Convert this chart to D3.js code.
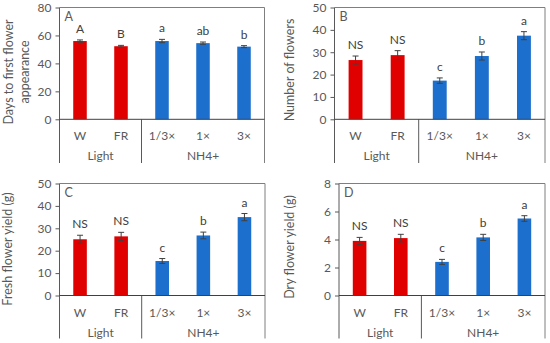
<!DOCTYPE html>
<meta charset="utf-8">
<head>
<style>
body { margin: 0; background: #fff; }
text { font-family: 'Lato', 'Open Sans', sans-serif; fill: #595959; }
.axis text { font-size: 12px; }
.title { font-size: 12.5px; }
.sig { font-size: 12px; fill: #404040; }
.cat { font-size: 12px; }
</style>
<script src="https://d3js.org/d3.v7.min.js"></script>
</head>
<body>
<svg id="chart" width="550" height="343"></svg>
<script>

// data
var categories = ["W", "FR", "1/3×", "1×", "3×"]
var groups = ["Light", "Light", "NH4+", "NH4+", "NH4+"]

var daysVals = [56, 52.3, 56, 54.5, 52]
var daysErr = [0.8, 0.6, 1.2, 0.8, 0.7]
var daysSig = ["A", "B", "a", "ab", "b"]

var numVals = [26.5, 28.7, 17.3, 28.3, 37.4]
var numErr = [1.8, 2.0, 1.2, 1.8, 1.8]
var numSig = ["NS", "NS", "c", "b", "a"]

var freshVals = [25.1, 26.4, 15.4, 26.8, 35.0]
var freshErr = [1.8, 1.8, 1.1, 1.5, 1.6]
var freshSig = ["NS", "NS", "c", "b", "a"]

var dryVals = [3.9, 4.1, 2.4, 4.15, 5.5]
var dryErr = [0.25, 0.27, 0.18, 0.22, 0.2]
var drySig = ["NS", "NS", "c", "b", "a"]

var colors = {"Light": "#e00000", "NH4+": "#1c6fcc"}

// panel layout
var panels = [
  {letter: "A", vals: daysVals, err: daysErr, sig: daysSig, max: 80, step: 20,
   title: ["Days to first flower", "appearance"], tx: [9, 25], ty: 72,
   left: 59.5, top: 7.5, right: 264.5, zero: 119.3, bottom: 163},
  {letter: "B", vals: numVals, err: numErr, sig: numSig, max: 50, step: 10,
   title: ["Number of flowers"], tx: [290], ty: 70,
   left: 334.5, top: 7.5, right: 545, zero: 119.3, bottom: 163},
  {letter: "C", vals: freshVals, err: freshErr, sig: freshSig, max: 50, step: 10,
   title: ["Fresh flower yield (g)"], tx: [8], ty: 249,
   left: 59.5, top: 183.5, right: 265, zero: 295.5, bottom: 338.5},
  {letter: "D", vals: dryVals, err: dryErr, sig: drySig, max: 8, step: 2,
   title: ["Dry flower yield (g)"], tx: [290], ty: 247,
   left: 339, top: 183.5, right: 545, zero: 295.5, bottom: 338.5}
]

var svg = d3.select('#chart')

panels.forEach(function (p) {
  var g = svg.append('g')

  var x = d3.scaleBand()
    .domain(categories)
    .range([p.left, p.right])
    .paddingInner(0.67)
    .paddingOuter(0.335)

  var y = d3.scaleLinear()
    .domain([0, p.max])
    .range([p.zero, p.top])

  // y axis
  var ax = g.append('g')
    .attr('class', 'axis')
    .attr('transform', 'translate(' + p.left + ',0)')
    .call(d3.axisLeft(y).tickValues(d3.range(0, p.max + 0.001, p.step)).tickSize(4).tickPadding(4))
  ax.select('.domain').remove()
  ax.selectAll('.tick line').attr('stroke', '#595959')
  ax.selectAll('.tick text').attr('fill', '#595959')

  // frame lines
  var band = (p.right - p.left) / categories.length
  g.append('line').attr('x1', p.left).attr('x2', p.left).attr('y1', p.top).attr('y2', p.bottom)
    .attr('stroke', '#595959')
  g.append('line').attr('x1', p.right).attr('x2', p.right).attr('y1', p.top).attr('y2', p.bottom)
    .attr('stroke', '#7f7f7f')
  g.append('line').attr('x1', p.left).attr('x2', p.right).attr('y1', p.top).attr('y2', p.top)
    .attr('stroke', '#7f7f7f')
  g.append('line').attr('x1', p.left + 2 * band).attr('x2', p.left + 2 * band)
    .attr('y1', p.zero).attr('y2', p.bottom).attr('stroke', '#595959')

  // bars
  g.selectAll('.bar')
    .data(categories)
    .enter().append('rect')
    .attr('x', function (d) { return x(d) })
    .attr('width', x.bandwidth())
    .attr('y', function (d, i) { return y(p.vals[i]) })
    .attr('height', function (d, i) { return y(0) - y(p.vals[i]) })
    .attr('fill', function (d, i) { return colors[groups[i]] })

  // zero line on top
  g.append('line').attr('x1', p.left).attr('x2', p.right).attr('y1', p.zero).attr('y2', p.zero)
    .attr('stroke', '#404040')

  // error bars
  categories.forEach(function (c, i) {
    var cx = x(c) + x.bandwidth() / 2
    var hi = y(p.vals[i] + p.err[i]), lo = y(p.vals[i] - p.err[i])
    var eg = g.append('g').attr('stroke', '#404040').attr('stroke-width', 1)
    eg.append('line').attr('x1', cx).attr('x2', cx).attr('y1', hi).attr('y2', lo)
    eg.append('line').attr('x1', cx - 3).attr('x2', cx + 3).attr('y1', hi).attr('y2', hi)
    eg.append('line').attr('x1', cx - 3).attr('x2', cx + 3).attr('y1', lo).attr('y2', lo)

    g.append('text').attr('class', 'sig')
      .attr('x', cx).attr('y', hi - 7)
      .attr('text-anchor', 'middle')
      .text(p.sig[i])

    g.append('text').attr('class', 'cat')
      .attr('x', cx).attr('y', p.zero + 21)
      .attr('text-anchor', 'middle')
      .text(c)
  })

  // group labels
  var groupNames = Array.from(new Set(groups))
  groupNames.forEach(function (gn) {
    var idx = categories.filter(function (c, i) { return groups[i] === gn })
    var x0 = x(idx[0]) + x.bandwidth() / 2
    var x1 = x(idx[idx.length - 1]) + x.bandwidth() / 2
    g.append('text').attr('class', 'cat')
      .attr('x', (x0 + x1) / 2).attr('y', p.zero + 41)
      .attr('text-anchor', 'middle')
      .text(gn)
  })

  // panel letter
  g.append('text').attr('class', 'title')
    .attr('x', p.left + 5).attr('y', p.top + 13)
    .text(p.letter)

  // y title
  p.title.forEach(function (t, k) {
    g.append('text').attr('class', 'title')
      .attr('transform', 'translate(' + p.tx[k] + ',' + p.ty + ') rotate(-90)')
      .attr('text-anchor', 'middle')
      .attr('dy', '0.35em')
      .text(t)
  })
})

</script>
</body>
